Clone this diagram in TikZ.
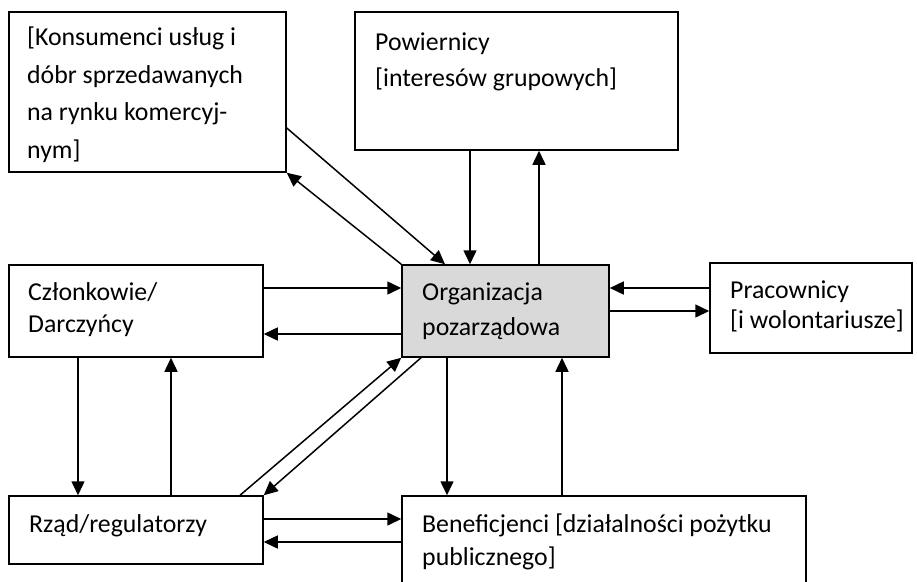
\documentclass[tikz,border=0pt]{standalone}
\usepackage{fontspec}
\setmainfont{Carlito}
\usetikzlibrary{arrows.meta,fit}
\definecolor{orgfill}{HTML}{D9D9D9}
\begin{document}
\begin{tikzpicture}[x=1pt,y=-1pt,
  box/.style={draw=black,line width=1.5pt,inner sep=0pt},
  txt/.style={anchor=base west,inner sep=0pt,font=\fontsize{25.8}{30}\selectfont},
  arr/.style={line width=1.5pt,-{Triangle[length=14pt,width=13pt]}}]
\useasboundingbox (0,0) rectangle (917,581);
\clip (0,0) rectangle (917,581);
% boxes
\node[box,fit={(9,12) (286,172)}] (kons) {};
\node[box,fit={(355,12) (678,150)}] (pow) {};
\node[box,fit={(9,265) (263,357)}] (czl) {};
\node[box,fill=orgfill,fit={(402,265) (609,357)}] (org) {};
\node[box,fit={(710,263) (912,353)}] (prac) {};
\node[box,fit={(9,496) (263,564)}] (rzad) {};
\node[box,fit={(402,496) (806,600)}] (ben) {};
% texts
\node[txt] (k1) at (27,45) {[Konsumenci usług i};
\node[txt] (k2) at (27,83) {dóbr sprzedawanych};
\node[txt] (k3) at (27,120) {na rynku komercyj-};
\node[txt] (k4) at (27,158) {nym]};
\node[txt] (p1) at (375,50) {Powiernicy};
\node[txt] (p2) at (375,86) {[interesów grupowych]};
\node[txt] (c1) at (28,300) {Członkowie/};
\node[txt] (c2) at (28,332) {Darczyńcy};
\node[txt] (o1) at (422,300) {Organizacja};
\node[txt] (o2) at (422,335) {pozarządowa};
\node[txt] (w1) at (730,298) {Pracownicy};
\node[txt] (w2) at (730,328) {[i wolontariusze]};
\node[txt] (r1) at (29,532) {Rząd/regulatorzy};
\node[txt] (b1) at (422,532) {Beneficjenci [działalności pożytku};
\node[txt] (b2) at (422,565) {publicznego]};
% connectors
\draw[arr] (kons.east |- 0,128) -- (org.north -| 445,0);
\draw[arr] (org.north west) -- (kons.south east);
\draw[arr] (pow.south -| 470,0) -- (org.north -| 470,0);
\draw[arr] (org.north -| 539,0) -- (pow.south -| 539,0);
\draw[arr] (czl.east |- 0,288) -- (org.west |- 0,288);
\draw[arr] (org.west |- 0,334) -- (czl.east |- 0,334);
\draw[arr] (prac.west |- 0,288) -- (org.east |- 0,288);
\draw[arr] (org.east |- 0,311) -- (prac.west |- 0,311);
\draw[arr] (czl.south -| 78,0) -- (rzad.north -| 78,0);
\draw[arr] (rzad.north -| 171,0) -- (czl.south -| 171,0);
\draw[arr] (rzad.north -| 240,0) -- (org.south west);
\draw[arr] (org.south -| 421,0) -- (rzad.north east);
\draw[arr] (org.south -| 447,0) -- (ben.north -| 447,0);
\draw[arr] (ben.north -| 562,0) -- (org.south -| 562,0);
\draw[arr] (rzad.east |- 0,519) -- (ben.west |- 0,519);
\draw[arr] (ben.west |- 0,542) -- (rzad.east |- 0,542);
\end{tikzpicture}
\end{document}
